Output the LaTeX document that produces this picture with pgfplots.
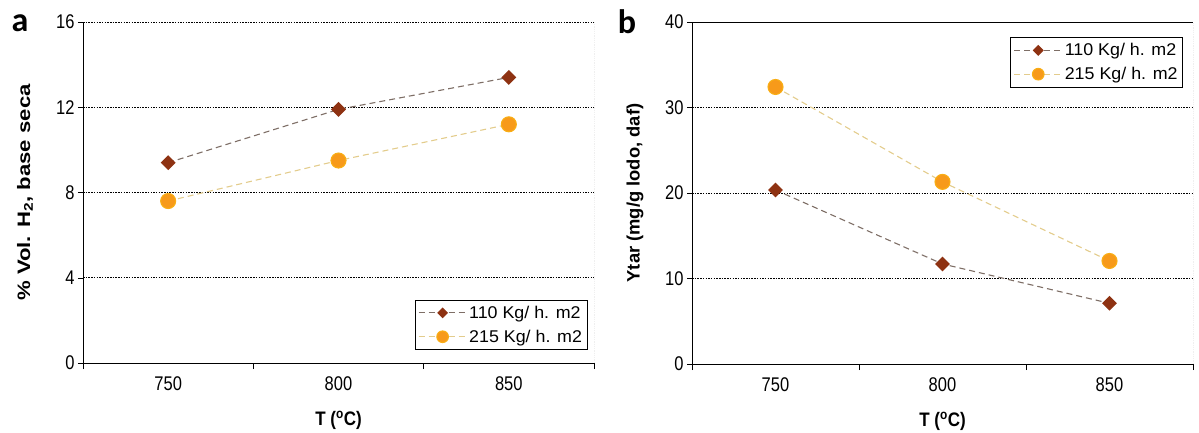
\documentclass[border=0pt]{standalone}
\usepackage{fontspec}
\setmainfont{Liberation Sans}
\newfontfamily\letterfont{Carlito}
\usepackage{pgfplots}
\pgfplotsset{compat=1.18}
\definecolor{dbrown}{HTML}{8E3212}
\definecolor{dline}{HTML}{7E6E66}
\definecolor{orng}{HTML}{F79A1A}
\definecolor{oline}{HTML}{E3CC8C}
\pgfplotsset{
  mystyle/.style={
    scale only axis,
    anchor=south west,
    xmin=-0.5, xmax=2.5,
    xtick={0,1,2},
    xticklabels={\scalebox{1}[1.2]{750},\scalebox{1}[1.2]{800},\scalebox{1}[1.2]{850}},
    yticklabel={\scalebox{1}[1.2]{\pgfmathprintnumber{\tick}}},
    major x tick style={draw=none},
    minor xtick={-0.5,0.5,1.5,2.5},
    minor x tick style={black, thin},
    minor tick length=6pt,
    major tick length=5pt,
    tick align=outside,
    axis x line*=bottom,
    axis y line*=left,
    axis line style={-, black, thin},
    ytick style={black, thin},
    ymajorgrids,
    grid style={black, dash pattern=on 1.5pt off 1.2pt, line width=0.6pt},
    tick label style={font=\fontsize{16.5}{18}\selectfont},
    /pgf/number format/assume math mode=true,
    xticklabel style={yshift=-5pt},
    label style={font=\bfseries\fontsize{17}{19}\selectfont},
    xlabel={\scalebox{1}[1.15]{T (\textsuperscript{o}C)}},
    xlabel style={at={(axis description cs:0.5,-0.167)}, anchor=center},
    legend style={draw=black, line width=0.8pt, font=\fontsize{17}{19}\selectfont, inner xsep=3pt, inner ysep=4pt, row sep=6pt, cells={anchor=west}},
    legend image code/.code={
      \draw[mark repeat=2, mark phase=2]
        plot coordinates {(0pt,0pt) (24pt,0pt) (48pt,0pt)};},
    every axis plot/.append style={line width=1.1pt},
  },
  sbrown/.style={color=dline, dash pattern=on 6pt off 4pt, mark=square*, mark size=4.7pt, mark options={solid, rotate=45, fill=dbrown, draw=dbrown}, legend image post style={mark size=3.3pt}},
  sorng/.style={color=oline, dash pattern=on 6pt off 4pt, mark=*, mark size=7.5pt, mark options={solid, fill=orng, draw=orng!80!yellow}, legend image post style={mark size=5.8pt}},
}
\begin{document}
\begin{tikzpicture}
\useasboundingbox (0pt,0pt) rectangle (1199pt,432pt);
\node[font=\letterfont\bfseries\fontsize{34}{36}\selectfont, anchor=center] at (20pt,409pt) {a};
\node[font=\letterfont\bfseries\fontsize{34}{36}\selectfont, anchor=center] at (627pt,410pt) {b};
\begin{axis}[mystyle,
  at={(83pt,69pt)}, width=511pt, height=341pt,
  ymin=0, ymax=16, ytick={0,4,8,12,16},
  ylabel={\fontsize{18}{20}\selectfont\scalebox{1.23}[1]{\% Vol. H\textsubscript{2}, base seca}},
  ylabel style={at={(axis description cs:-0.1135,0.5)}, anchor=center},
  legend style={at={(0.987,0.038)}, anchor=south east},
]
\addplot[sbrown] coordinates {(0,9.4) (1,11.9) (2,13.4)};
\addlegendentry{\scalebox{1.05}[1]{110 Kg/ h. m2}}
\addplot[sorng] coordinates {(0,7.6) (1,9.5) (2,11.2)};
\addlegendentry{\scalebox{1.05}[1]{215 Kg/ h. m2}}
\draw[gray, densely dotted, line width=0.8pt] (rel axis cs:1,0) -- (rel axis cs:1,1);
\end{axis}
\begin{axis}[mystyle,
  at={(692pt,68pt)}, width=501pt, height=342pt,
  ymin=0, ymax=40, ytick={0,10,20,30,40},
  ylabel={\fontsize{18}{20}\selectfont\scalebox{1.02}[1]{Ytar (mg/g lodo, daf)}},
  ylabel style={at={(axis description cs:-0.114,0.5)}, anchor=center},
  legend style={at={(0.98,0.956)}, anchor=north east},
]
\addplot[sbrown] coordinates {(0,20.35) (1,11.7) (2,7.1)};
\addlegendentry{\scalebox{1.05}[1]{110 Kg/ h. m2}}
\addplot[sorng] coordinates {(0,32.4) (1,21.3) (2,12.05)};
\addlegendentry{\scalebox{1.05}[1]{215 Kg/ h. m2}}
\draw[black, thin] (rel axis cs:0,1) -- (rel axis cs:1,1);
\draw[gray, densely dotted, line width=0.8pt] (rel axis cs:1,0) -- (rel axis cs:1,1);
\end{axis}
\end{tikzpicture}
\end{document}
